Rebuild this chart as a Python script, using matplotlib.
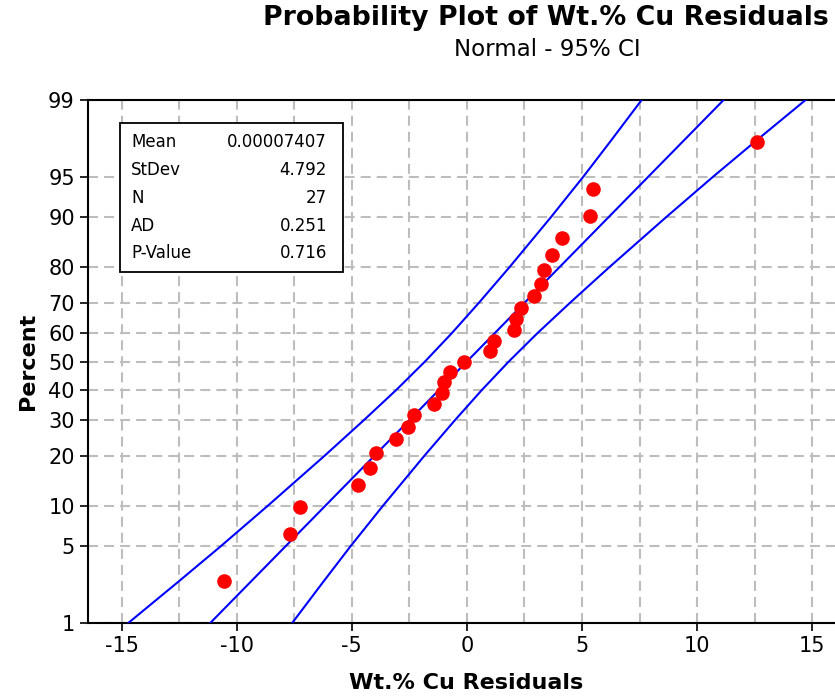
from statistics import NormalDist
import numpy as np
import matplotlib
matplotlib.use("Agg")
import matplotlib.pyplot as plt
from matplotlib.patches import Rectangle

# residuals and their plotting percents
resid = [-10.54, -7.68, -7.24, -4.72, -4.23, -3.95, -3.08, -2.58, -2.30, -1.43,
         -1.09, -1.00, -0.75, -0.14, 0.99, 1.16, 2.03, 2.12, 2.36, 2.90,
         3.23, 3.33, 3.68, 4.11, 5.33, 5.49, 12.60]
percent = [2.55, 6.2, 9.85, 13.5, 17.15, 20.8, 24.45, 28.1, 31.75, 35.4,
           39.05, 42.7, 46.35, 50.0, 53.65, 57.3, 60.95, 64.6, 68.25, 71.9,
           75.55, 79.2, 82.85, 86.5, 90.15, 93.8, 97.45]

# fitted line and 95% CI bands
fit_pct = [1, 99]
fit_x = [-11.15, 11.15]
ci_pct = [1, 2.5, 5, 10, 20, 30, 40, 50, 60, 70, 80, 90, 95, 97.5, 99]
ci_lower = [-14.71, -12.54, -10.70, -8.64, -6.20, -4.49, -3.07, -1.82, -0.65,
            0.53, 1.86, 3.64, 5.06, 6.24, 7.59]
ci_upper = [-7.59, -6.24, -5.06, -3.64, -1.86, -0.53, 0.65, 1.82, 3.07,
            4.49, 6.20, 8.64, 10.70, 12.54, 14.71]

y_ticks = [1, 5, 10, 20, 30, 40, 50, 60, 70, 80, 90, 95, 99]
x_ticks = [-15, -10, -5, 0, 5, 10, 15]

stat_names = ["Mean", "StDev", "N", "AD", "P-Value"]
stat_values = ["0.00007407", "4.792", "27", "0.251", "0.716"]

nd = NormalDist()


def fwd(p):
    p = np.clip(np.asarray(p, dtype=float) / 100.0, 1e-9, 1 - 1e-9)
    return np.array([nd.inv_cdf(v) for v in p.ravel()]).reshape(p.shape)


def inv(z):
    z = np.asarray(z, dtype=float)
    return np.array([nd.cdf(v) for v in z.ravel()]).reshape(z.shape) * 100.0


W, H = 835, 700
fig = plt.figure(figsize=(W / 100, H / 100), dpi=100)

x0, x1 = -16.46, 16.5
pxu = 23.02
ax = fig.add_axes([88 / W, 1 - 623 / H, (x1 - x0) * pxu / W, 523 / H])
ax.set_yscale("function", functions=(fwd, inv))
ax.set_xlim(x0, x1)
ax.set_ylim(1, 99)

ax.plot(ci_lower, ci_pct, color="#0000ff", lw=1.5, zorder=3)
ax.plot(ci_upper, ci_pct, color="#0000ff", lw=1.5, zorder=3)
ax.plot(fit_x, fit_pct, color="#0000ff", lw=1.5, zorder=3)
ax.plot(resid, percent, "o", color="#ff0000", markersize=10.5, mec="none", zorder=4)

ax.set_yticks(y_ticks)
ax.set_yticklabels([str(t) for t in y_ticks])
ax.set_xticks(x_ticks)
ax.set_xticklabels([str(t) for t in x_ticks])
ax.set_xticks(np.arange(-15, 15.1, 2.5), minor=True)
ax.yaxis.set_minor_locator(matplotlib.ticker.NullLocator())
ax.tick_params(axis="both", which="major", direction="out", length=6, width=1.2,
               labelsize=15, colors="black")
ax.tick_params(axis="x", which="minor", length=0)

dash = (0, (4.8, 2.9))
ax.grid(True, axis="x", which="both", color="#bdbdbd", lw=1.5, linestyle=dash)
ax.grid(True, axis="y", which="major", color="#bdbdbd", lw=1.5, linestyle=dash)
ax.set_axisbelow(True)

for s in ["left", "bottom", "top"]:
    ax.spines[s].set_linewidth(1.5)
ax.spines["right"].set_visible(False)

# stats box
fig.patches.append(Rectangle((120 / W, 1 - 272 / H), 223 / W, 149 / H,
                             transform=fig.transFigure, fill=True, fc="white",
                             ec="black", lw=1.3, zorder=5))
rows_y = [142, 170, 198, 226, 253]
for name, val, yy in zip(stat_names, stat_values, rows_y):
    fig.text(131 / W, 1 - yy / H, name, fontsize=12, ha="left", va="center", zorder=6)
    fig.text(327 / W, 1 - yy / H, val, fontsize=12, ha="right", va="center", zorder=6)

fig.text(546 / W, 1 - 18 / H, "Probability Plot of Wt.% Cu Residuals",
         fontsize=19.3, fontweight="bold", ha="center", va="center")
fig.text(547 / W, 1 - 50 / H, "Normal - 95% CI", fontsize=16.5, ha="center", va="center")
fig.text(466 / W, 1 - 683 / H, "Wt.% Cu Residuals", fontsize=16, fontweight="bold",
         ha="center", va="center")
fig.text(28 / W, 1 - 361 / H, "Percent", fontsize=16, fontweight="bold",
         ha="center", va="center", rotation=90)

fig.savefig("out.png", dpi=100)
